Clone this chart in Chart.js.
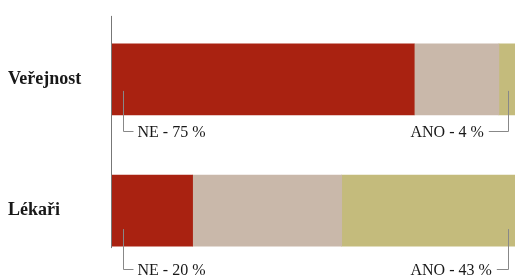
<!DOCTYPE html>
<html>
<head>
<meta charset="utf-8">
<script src="https://cdn.jsdelivr.net/npm/chart.js@4"></script>
<style>
  body { margin: 0; background: #fff; }
  #wrap { width: 515px; height: 277px; overflow: hidden; }
</style>
</head>
<body>
<div id="wrap"><canvas id="chart" width="515" height="290"></canvas></div>
<script>
// Data
const groups = ['Veřejnost', 'Lékaři'];
const neValues = [75, 20];
const midValues = [21, 37];
const anoValues = [4, 43];
const neLabels = ['NE - 75 %', 'NE - 20 %'];
const anoLabels = ['ANO - 4 %', 'ANO - 43 %'];

// Axis line on the left, from above the first bar to the bottom of the last
const axisLine = {
    id: 'axisLine',
    afterDatasetsDraw(chart) {
        const ctx = chart.ctx;
        const meta = chart.getDatasetMeta(0);
        const first = meta.data[0];
        const last = meta.data[meta.data.length - 1];
        const x = chart.chartArea.left - 0.5;
        ctx.save();
        ctx.strokeStyle = '#777';
        ctx.lineWidth = 1;
        ctx.beginPath();
        ctx.moveTo(x, first.y - first.height / 2 - 28);
        ctx.lineTo(x, last.y + last.height / 2 + 2);
        ctx.stroke();
        ctx.restore();
    }
};

// Bracket labels under each bar (bracket drop differs a little per row)
const bracketTop = [-24, -17];
const bracketBottom = [16.5, 23];
const brackets = {
    id: 'brackets',
    afterDatasetsDraw(chart) {
        const ctx = chart.ctx;
        const xs = chart.scales.x;
        const meta = chart.getDatasetMeta(0);
        ctx.save();
        ctx.font = '16px "Liberation Serif"';
        ctx.textBaseline = 'middle';
        ctx.fillStyle = '#181818';
        ctx.strokeStyle = '#888';
        ctx.lineWidth = 1;
        meta.data.forEach((bar, i) => {
            const bottom = bar.y + bar.height / 2;
            const y0 = bottom + bracketTop[i];
            const y1 = Math.round(bottom + bracketBottom[i]) + 0.5;
            // left bracket
            const lx = Math.round(xs.getPixelForValue(0)) + 11.5;
            ctx.beginPath();
            ctx.moveTo(lx, y0);
            ctx.lineTo(lx, y1);
            ctx.lineTo(lx + 10, y1);
            ctx.stroke();
            ctx.textAlign = 'left';
            ctx.fillText(neLabels[i], lx + 14, y1 + 1);
            // right bracket
            const rx = Math.round(xs.getPixelForValue(100)) - 6.5;
            const tx = rx - 98;
            ctx.fillText(anoLabels[i], tx, y1 + 1);
            const tw = ctx.measureText(anoLabels[i]).width;
            ctx.beginPath();
            ctx.moveTo(tx + tw + 5, y1);
            ctx.lineTo(rx, y1);
            ctx.lineTo(rx, y0);
            ctx.stroke();
        });
        ctx.restore();
    }
};

new Chart(document.getElementById('chart'), {
    type: 'bar',
    data: {
        labels: groups,
        datasets: [
            { label: 'NE', data: neValues, backgroundColor: '#A92211' },
            { label: 'Nevím', data: midValues, backgroundColor: '#C9B8AA' },
            { label: 'ANO', data: anoValues, backgroundColor: '#C4BB7C' }
        ]
    },
    options: {
        indexAxis: 'y',
        responsive: false,
        animation: false,
        layout: { padding: { top: 8, bottom: 1, left: 8, right: 0 } },
        datasets: { bar: { barThickness: 71 } },
        plugins: {
            legend: { display: false },
            tooltip: { enabled: false }
        },
        scales: {
            x: {
                stacked: true,
                min: 0,
                max: 100,
                display: false
            },
            y: {
                stacked: true,
                grid: { display: false },
                border: { display: false },
                ticks: {
                    crossAlign: 'far',
                    color: '#181818',
                    font: { family: 'Liberation Serif', size: 18, weight: 'bold' }
                },
                afterFit(scale) { scale.width = 104; }
            }
        }
    },
    plugins: [axisLine, brackets]
});
</script>
</body>
</html>
